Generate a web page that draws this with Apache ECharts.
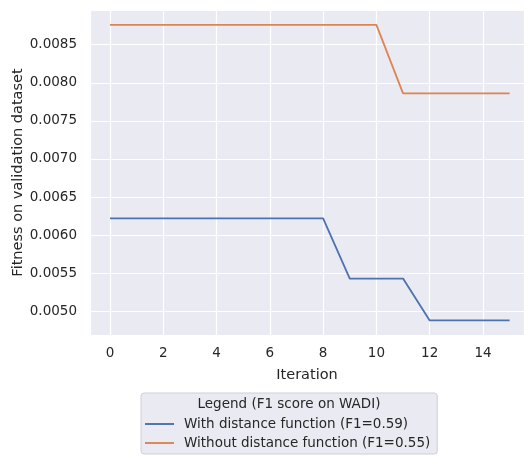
<!DOCTYPE html>
<html>
<head>
<meta charset="utf-8">
<script src="https://cdn.jsdelivr.net/npm/echarts@6/dist/echarts.min.js"></script>
<style>
html,body{margin:0;padding:0;background:#fff;}
#main{width:524px;height:456px;}
</style>
</head>
<body>
<div id="main"></div>
<script>
const iterations = [0,1,2,3,4,5,6,7,8,9,10,11,12,13,14,15];
const withDistance = [0.00622,0.00622,0.00622,0.00622,0.00622,0.00622,0.00622,0.00622,0.00622,0.00543,0.00543,0.00543,0.00488,0.00488,0.00488,0.00488];
const withoutDistance = [0.00876,0.00876,0.00876,0.00876,0.00876,0.00876,0.00876,0.00876,0.00876,0.00876,0.00876,0.00786,0.00786,0.00786,0.00786,0.00786];
const seriesNames = ['With distance function (F1=0.59)', 'Without distance function (F1=0.55)'];
const legendTitle = 'Legend (F1 score on WADI)';
const xName = 'Iteration';
const yName = 'Fitness on validation dataset';

const FONT = 'DejaVu Sans';
const TXT = '#262626';
const chart = echarts.init(document.getElementById('main'), null, {renderer:'canvas'});
const pair = (xs, ys) => xs.map((x,i)=>[x, ys[i]]);
chart.setOption({
  animation:false,
  backgroundColor:'#ffffff',
  textStyle:{fontFamily:FONT},
  title:{
    text:legendTitle, left:289, top:397, textAlign:'center', padding:0, z:10,
    textStyle:{fontFamily:FONT, fontSize:13.5, fontWeight:'normal', color:TXT}
  },
  grid:{left:90, top:10, right:0, bottom:121, show:true, backgroundColor:'#EAEAF2', borderWidth:0,
    containLabel:false, outerBoundsMode:'none'},
  xAxis:{
    type:'value', min:-0.75, max:15.54, splitNumber:8,
    name:xName, nameLocation:'middle', nameGap:33, nameMoveOverlap:false,
    nameTextStyle:{fontFamily:FONT, fontSize:14.5, color:TXT},
    axisLine:{show:false}, axisTick:{show:false},
    axisLabel:{fontFamily:FONT, fontSize:13.5, color:TXT, margin:11, showMinLabel:false, showMaxLabel:false},
    splitLine:{show:true, lineStyle:{color:'#ffffff', width:1.2}}
  },
  yAxis:{
    type:'value', min:0.004689, max:0.008955, splitNumber:8,
    name:yName, nameLocation:'middle', nameGap:64, nameMoveOverlap:false,
    nameTextStyle:{fontFamily:FONT, fontSize:14.5, color:TXT},
    axisLine:{show:false}, axisTick:{show:false},
    axisLabel:{fontFamily:FONT, fontSize:13.5, color:TXT, margin:13, showMinLabel:false, showMaxLabel:false,
      formatter:v=>v.toFixed(4)},
    splitLine:{show:true, lineStyle:{color:'#ffffff', width:1.2}}
  },
  legend:{
    orient:'vertical', left:141, top:393,
    padding:[24, 7, 4, 4],
    backgroundColor:'#EAEAF2', borderColor:'#cfcfd6', borderWidth:1, borderRadius:3,
    itemWidth:29, itemHeight:14, itemGap:5,
    icon:'path://M0,0 L30,0 L30,2 L0,2 Z',
    textStyle:{fontFamily:FONT, fontSize:13.5, color:TXT, padding:[0,0,0,5]},
    data:seriesNames
  },
  series:[
    {name:seriesNames[0], type:'line', data:pair(iterations, withDistance), showSymbol:false, symbol:'none',
     lineStyle:{color:'#4C72B0', width:1.8}, itemStyle:{color:'#4C72B0'}},
    {name:seriesNames[1], type:'line', data:pair(iterations, withoutDistance), showSymbol:false, symbol:'none',
     lineStyle:{color:'#DD8452', width:1.8}, itemStyle:{color:'#DD8452'}}
  ]
});
</script>
</body>
</html>
